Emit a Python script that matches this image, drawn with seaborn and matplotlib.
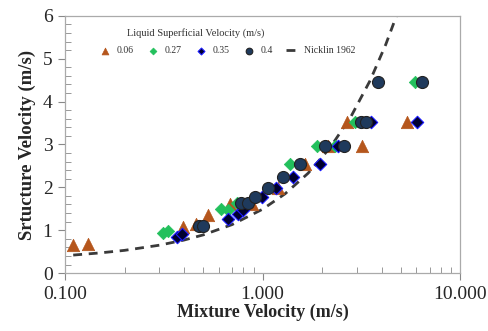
import matplotlib
matplotlib.use("Agg")
import matplotlib.pyplot as plt
import matplotlib.ticker as mticker
import seaborn as sns

# values
vm_006 = [0.11, 0.13, 0.395, 0.46, 0.53, 0.68, 0.88, 1.19, 1.64, 2.15, 2.67, 3.18, 5.37]
vs_006 = [0.65, 0.67, 1.08, 1.15, 1.36, 1.62, 1.60, 1.98, 2.55, 2.97, 3.53, 2.97, 3.53]

vm_027 = [0.315, 0.333, 0.614, 0.67, 0.74, 1.37, 1.88, 2.33, 2.95, 5.92]
vs_027 = [0.94, 0.99, 1.49, 1.47, 1.63, 2.55, 2.97, 2.97, 3.53, 4.45]

vm_035 = [0.368, 0.39, 0.671, 0.75, 0.80, 0.99, 1.17, 1.43, 1.95, 2.42, 3.55, 6.04]
vs_035 = [0.85, 0.90, 1.26, 1.38, 1.47, 1.78, 1.98, 2.25, 2.55, 2.97, 3.53, 3.53]

vm_04 = [0.479, 0.50, 0.78, 0.84, 0.92, 1.06, 1.27, 1.55, 2.07, 2.58, 3.14, 3.32, 3.83, 6.40]
vs_04 = [1.10, 1.10, 1.63, 1.63, 1.78, 1.98, 2.25, 2.55, 2.97, 2.97, 3.53, 3.53, 4.45, 4.45]

nick_x = [0.11, 0.15, 0.2, 0.3, 0.4, 0.5, 0.7, 1.0, 1.3, 1.7, 2.2, 2.8, 3.5, 4.2, 4.75]
nick_y = [0.42, 0.47, 0.53, 0.65, 0.77, 0.89, 1.13, 1.49, 1.85, 2.33, 2.93, 3.65, 4.49, 5.33, 5.99]

sns.set_theme(style="white")
plt.rcParams['font.family'] = ['Liberation Serif', 'DejaVu Serif']

fig = plt.figure(figsize=(4.89, 3.31), dpi=100)
ax = fig.add_axes([0.133, 0.175, 0.808, 0.777])

sns.lineplot(x=nick_x, y=nick_y, ax=ax, color='#3a3a3a', lw=2.0,
             dashes=False, linestyle=(0, (3.2, 2.4)), label='Nicklin 1962', zorder=1, sort=False)
sns.scatterplot(x=vm_006, y=vs_006, ax=ax, marker='^', s=80, color='#b5561c',
                edgecolor='#b5561c', linewidth=0.5, label='0.06', zorder=2)
sns.scatterplot(x=vm_027, y=vs_027, ax=ax, marker='D', s=40, color='#22c05c',
                edgecolor='#22c05c', linewidth=0.5, label='0.27', zorder=3)
sns.scatterplot(x=vm_035, y=vs_035, ax=ax, marker='D', s=40, color='#000030',
                edgecolor='#1a1aff', linewidth=0.8, label='0.35', zorder=4)
sns.scatterplot(x=vm_04, y=vs_04, ax=ax, marker='o', s=75, color='#1f3a5c',
                edgecolor='#222222', linewidth=0.8, label='0.4', zorder=5)

ax.set_xscale('log')
ax.set_xlim(0.1, 10)
ax.set_ylim(0, 6)
ax.xaxis.set_major_locator(mticker.FixedLocator([0.1, 1, 10]))
ax.xaxis.set_major_formatter(mticker.FormatStrFormatter('%.3f'))
ax.xaxis.set_minor_locator(mticker.LogLocator(base=10, subs=range(2, 10)))
ax.xaxis.set_minor_formatter(mticker.NullFormatter())
ax.yaxis.set_major_locator(mticker.MultipleLocator(1))
ax.yaxis.set_minor_locator(mticker.MultipleLocator(0.2))

ax.tick_params(which='major', direction='out', length=5, width=0.8, color='#888888',
               labelsize=14, pad=4, left=True, bottom=True)
ax.tick_params(which='minor', direction='in', length=4, width=0.6, color='#888888',
               left=True, bottom=True)
for sp in ax.spines.values():
    sp.set_color('#aaaaaa')
    sp.set_linewidth(0.9)

ax.set_xlabel('Mixture Velocity (m/s)', fontsize=13, fontweight='bold', labelpad=1)
ax.set_ylabel('Srtucture Velocity (m/s)', fontsize=13.5, fontweight='bold', labelpad=5)

h, l = ax.get_legend_handles_labels()
order = [l.index(k) for k in ['0.06', '0.27', '0.35', '0.4', 'Nicklin 1962']]
leg = ax.legend([h[i] for i in order], [l[i] for i in order], ncol=5, frameon=False,
                fontsize=7, loc='upper center', bbox_to_anchor=(0.41, 0.915),
                handlelength=1.4, handletextpad=0.5, columnspacing=1.3, markerscale=0.55)
for t in leg.get_texts():
    t.set_color('#333333')
ax.text(0.33, 0.935, 'Liquid Superficial Velocity (m/s)', transform=ax.transAxes,
        ha='center', va='center', fontsize=7.5, color='#333333')

fig.savefig('out.png', dpi=100)
